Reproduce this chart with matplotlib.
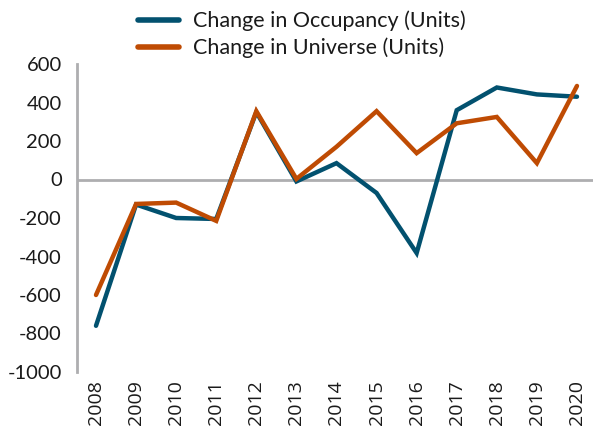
import matplotlib
matplotlib.use("Agg")
import matplotlib.pyplot as plt

years = ["2008", "2009", "2010", "2011", "2012", "2013", "2014",
         "2015", "2016", "2017", "2018", "2019", "2020"]
occupancy = [-760, -130, -200, -205, 350, -10, 85, -70, -382, 360, 478, 442, 430]
universe = [-600, -127, -120, -215, 355, 3, 170, 355, 137, 292, 325, 85, 486]
yticks = [-1000, -800, -600, -400, -200, 0, 200, 400, 600]

BLUE = "#02516F"
ORANGE = "#BF4B03"
GRAY = "#AEAEB0"

fig = plt.figure(figsize=(5.93, 4.33), dpi=100)
ax = fig.add_axes([77/593, 1-372/433, 1-77/593, (372-64)/433])

x = list(range(len(years)))
ax.axhline(0, color=GRAY, lw=2, zorder=1)
ax.plot(x, occupancy, color=BLUE, lw=3.2, solid_capstyle="round",
        solid_joinstyle="miter", label="Change in Occupancy (Units)", zorder=3)
ax.plot(x, universe, color=ORANGE, lw=3.2, solid_capstyle="round",
        solid_joinstyle="miter", label="Change in Universe (Units)", zorder=4)

ax.set_xlim(-0.474, 12.4)
ax.set_ylim(-1000, 600)
ax.set_yticks(yticks)
ax.set_yticklabels([str(v) for v in yticks], fontfamily="Lato", fontsize=14.5, color="#1a1a1a")
ax.set_xticks(x)
ax.set_xticklabels(years, rotation=90, fontfamily="Open Sans", fontsize=14, color="#1a1a1a")
ax.tick_params(axis="y", length=0, pad=11)
ax.tick_params(axis="x", length=0, pad=6)
for s in ["top", "right", "bottom"]:
    ax.spines[s].set_visible(False)
ax.spines["left"].set_color(GRAY)
ax.spines["left"].set_linewidth(2)

leg = fig.legend(loc="upper left", bbox_to_anchor=(125/593, 1.005), frameon=False,
                 prop={"family": "Lato", "size": 15.5}, handlelength=1.9,
                 labelspacing=0.3, handletextpad=0.65, borderpad=0.1)
for line in leg.get_lines():
    line.set_linewidth(4)
for t in leg.get_texts():
    t.set_color("#1a1a1a")

fig.savefig("out.png", dpi=100)
